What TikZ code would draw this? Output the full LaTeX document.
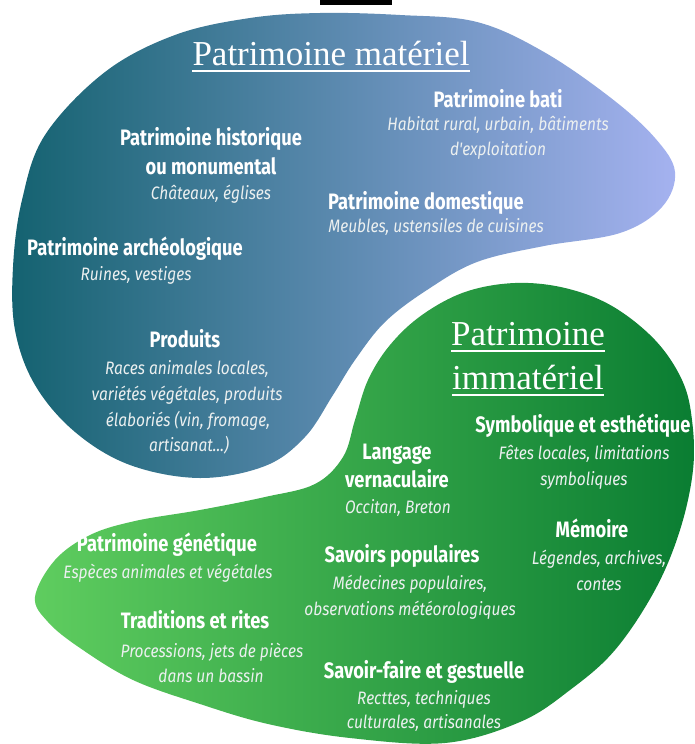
\documentclass[tikz,border=0pt]{standalone}
\usepackage{fontspec}
\setmainfont{Fira Sans}
\newfontfamily\hdfont[FakeStretch=0.82]{Fira Sans}
\newfontfamily\dsfont[FakeStretch=0.86]{Fira Sans}
\newfontfamily\ttlfont{Liberation Serif}
\definecolor{blueL}{RGB}{20,98,112}
\definecolor{blueR}{RGB}{165,178,240}
\definecolor{greenL}{RGB}{95,205,95}
\definecolor{greenR}{RGB}{10,125,50}
\definecolor{dsc}{RGB}{236,240,240}
\tikzset{
  hd/.style={text=white, inner sep=0pt, anchor=mid, yshift=-5pt, font=\hdfont\bfseries\fontsize{22.3}{26}\selectfont},
  ds/.style={text=dsc, inner sep=0pt, anchor=mid, yshift=-4pt, font=\dsfont\itshape\fontsize{18}{22}\selectfont},
  ttl/.style={text=white, inner sep=0pt, anchor=base, font=\ttlfont\fontsize{35}{40}\selectfont},
  uline/.style={white, line width=1.4pt}
}
\begin{document}
\begin{tikzpicture}[x=1pt,y=-1pt]
\useasboundingbox (0,0) rectangle (694,744);
\fill[black] (320,0) rectangle (392,5);
% blue blob
\shade[left color=blueL, right color=blueR] plot[smooth cycle, tension=0.6] coordinates {
 (320,13) (400,15) (477,22) (544,52) (611,98) (655,138) (675,172) (662,207) (620,233)
 (544,246) (477,262) (427,290) (385,322) (355,360) (333,395) (305,437) (265,466)
 (200,478) (130,465) (75,432) (35,385) (15,330) (13,267) (22,200) (45,135) (105,72)
 (175,35) (250,18)};
% green blob
\shade[left color=greenL, right color=greenR] plot[smooth cycle, tension=0.6] coordinates {
 (35,597) (55,560) (90,535) (135,521) (200,510) (265,497) (315,484) (343,457) (355,420)
 (368,380) (390,345) (422,315) (465,292) (515,283) (565,288) (612,306) (655,340)
 (682,380) (692,420) (693,470) (680,530) (655,590) (615,650) (570,690) (520,722)
 (445,743) (350,738) (268,724) (200,704) (133,680) (80,648) (48,622)};
% titles
\node[ttl] (t1) at (331,65) {Patrimoine matériel};
\draw[uline] ([yshift=-6pt]t1.base west) -- ([yshift=-6pt]t1.base east);
\node[ttl] (t2a) at (528,345) {Patrimoine};
\draw[uline] ([yshift=-6pt]t2a.base west) -- ([yshift=-6pt]t2a.base east);
\node[ttl] (t2b) at (528,389) {immatériel};
\draw[uline] ([yshift=-6pt]t2b.base west) -- ([yshift=-6pt]t2b.base east);
% blue items
\node[hd] (bati) at (498,100) {Patrimoine bati};
\node[ds] (bati1) at (498,124) {Habitat rural, urbain, bâtiments};
\node[ds] (bati2) at (498,149) {d'exploitation};
\node[hd] (hist) at (211,138) {Patrimoine historique};
\node[hd] (hist2) at (211,167) {ou monumental};
\node[ds] (hist3) at (211,193) {Châteaux, églises};
\node[hd] (dom) at (426,202) {Patrimoine domestique};
\node[ds] (dom1) at (436,226) {Meubles, ustensiles de cuisines};
\node[hd] (arch) at (135,248) {Patrimoine archéologique};
\node[ds] (arch1) at (136,274) {Ruines, vestiges};
\node[hd] (prod) at (185,340) {Produits};
\node[ds] (prod1) at (187,368) {Races animales locales,};
\node[ds] (prod2) at (187,394) {variétés végétales, produits};
\node[ds] (prod3) at (188,420) {élaboriés (vin, fromage,};
\node[ds] (prod4) at (189,445) {artisanat...)};
% green items
\node[hd] (sym) at (583,425) {Symbolique et esthétique};
\node[ds] (sym1) at (584,453) {Fêtes locales, limitations};
\node[ds] (sym2) at (584,479) {symboliques};
\node[hd] (lang) at (397,452) {Langage};
\node[hd] (lang2) at (397,480) {vernaculaire};
\node[ds] (lang3) at (398,507) {Occitan, Breton};
\node[hd] (mem) at (592,530) {Mémoire};
\node[ds] (mem1) at (599,558) {Légendes, archives,};
\node[ds] (mem2) at (599,584) {contes};
\node[hd] (gen) at (167,544) {Patrimoine génétique};
\node[ds] (gen1) at (168,572) {Espèces animales et végétales};
\node[hd] (sav) at (402,555) {Savoirs populaires};
\node[ds] (sav1) at (410,583) {Médecines populaires,};
\node[ds] (sav2) at (410,609) {observations météorologiques};
\node[hd] (trad) at (195,621) {Traditions et rites};
\node[ds] (trad1) at (212,651) {Processions, jets de pièces};
\node[ds] (trad2) at (211,676) {dans un bassin};
\node[hd] (sf) at (424,671) {Savoir-faire et gestuelle};
\node[ds] (sf1) at (424,698) {Recttes, techniques};
\node[ds] (sf2) at (424,722) {culturales, artisanales};
\end{tikzpicture}
\end{document}
